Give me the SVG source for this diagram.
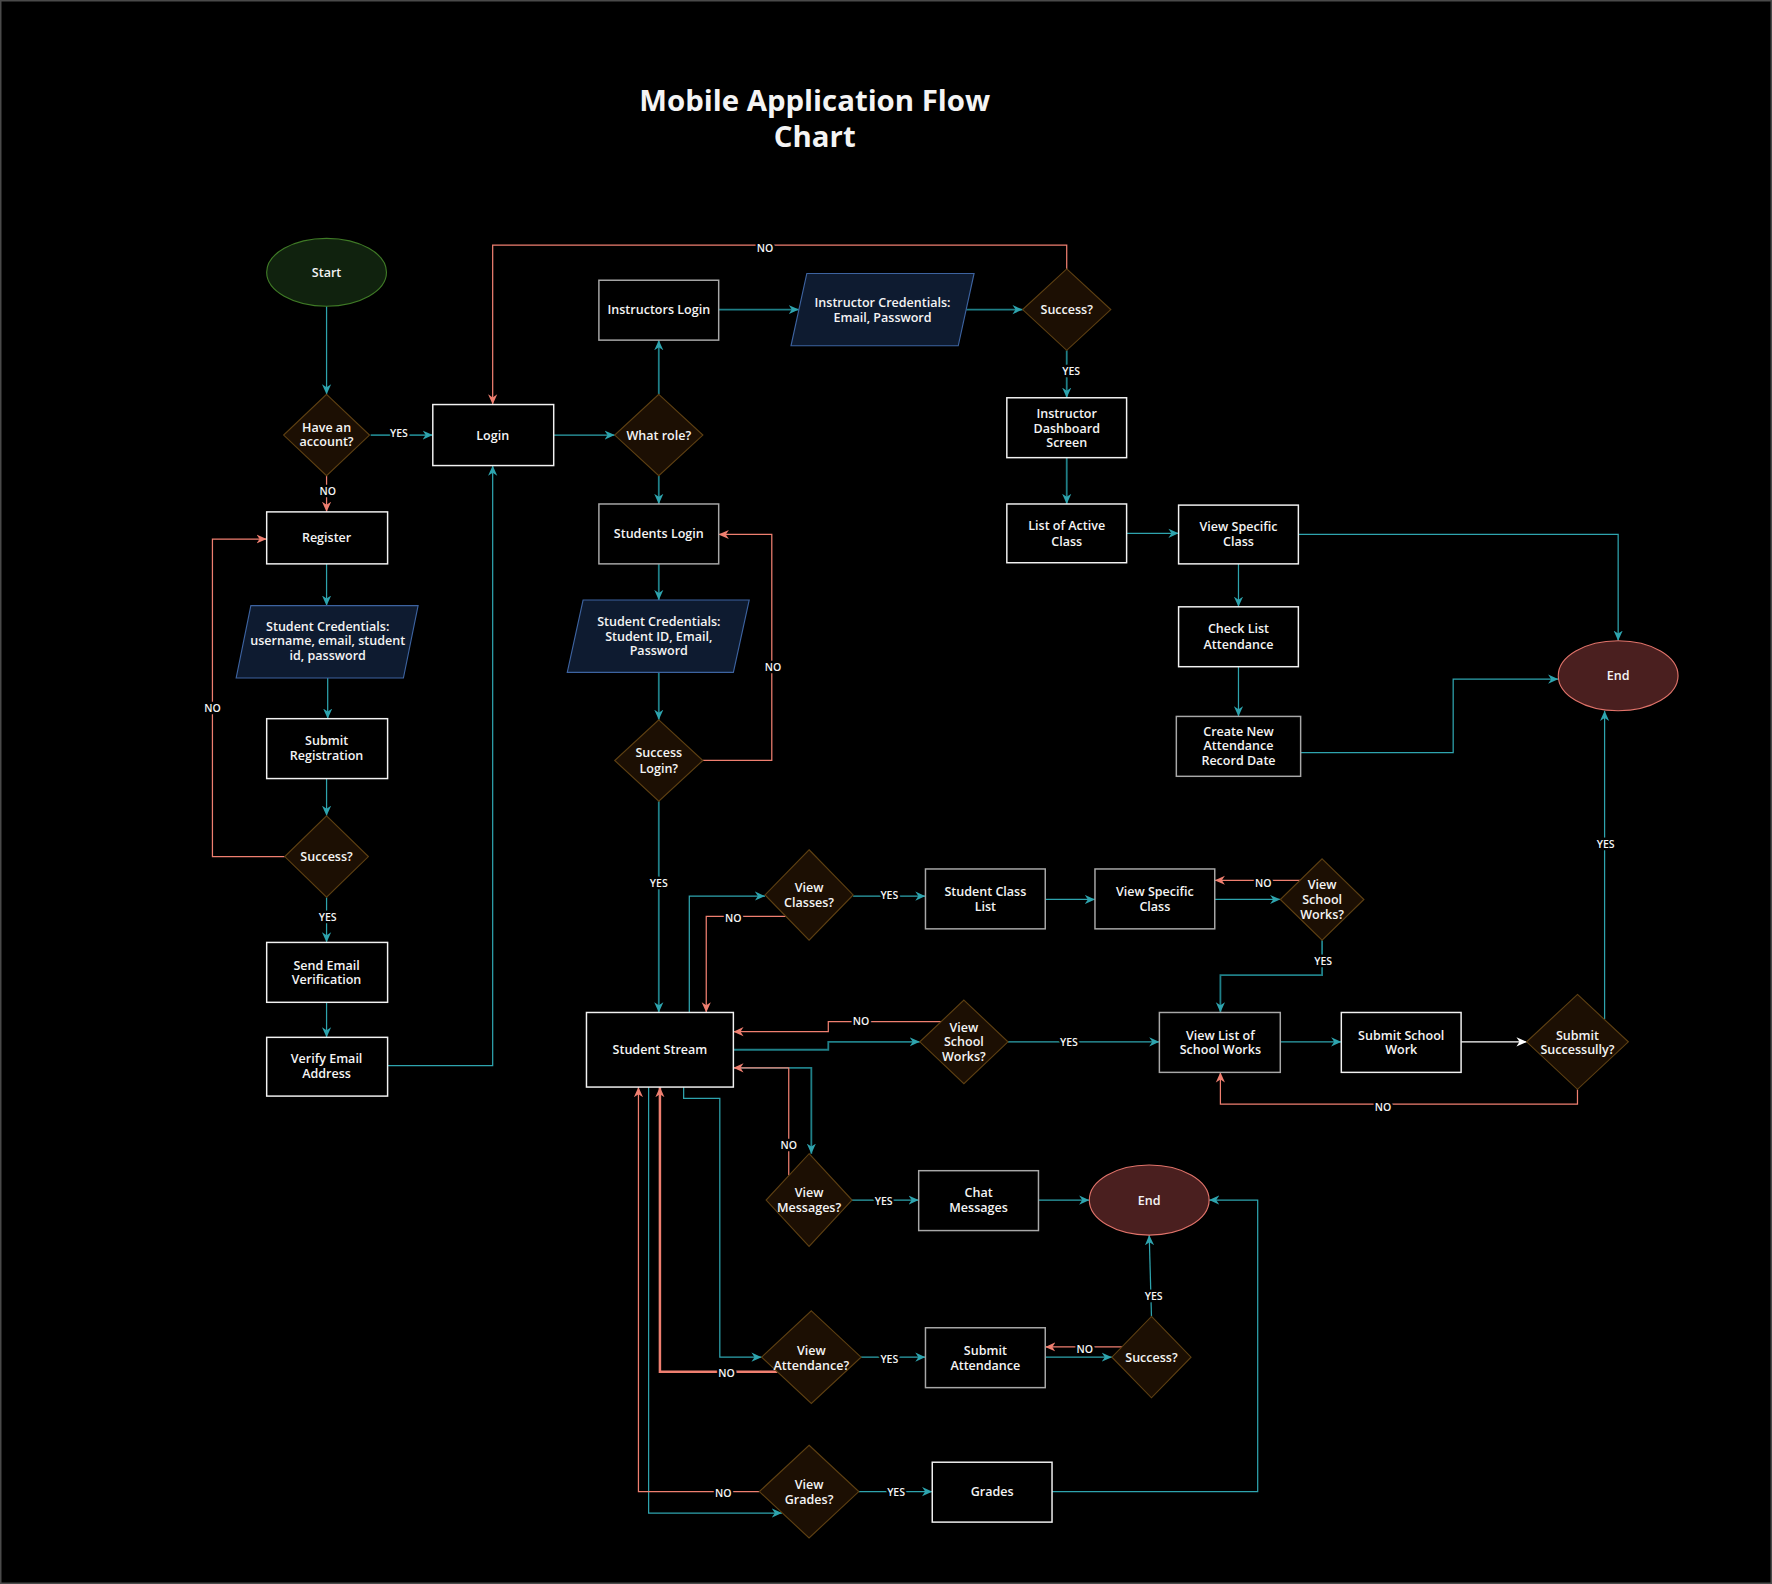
<svg xmlns="http://www.w3.org/2000/svg" width="1772" height="1584" viewBox="0 0 1772 1584">
<defs>
<style>
.bg{fill:#000;stroke:#4a4a4a;stroke-width:1.5}
.box{fill:#000;stroke:#f2f2f2;stroke-width:1.3}
.boxg{fill:#000;stroke:#a8a8a8;stroke-width:1.3}
.dia{fill:#1c0f03;stroke:#5e4012;stroke-width:1}
.para{fill:#0e1b30;stroke:#3d63a0;stroke-width:1}
.start{fill:#10220e;stroke:#3f7a26;stroke-width:1}
.end{fill:#4a1f1f;stroke:#e0736a;stroke-width:1}
text{font-family:"Open Sans","Liberation Sans",sans-serif;fill:#f4f4f4;text-anchor:middle}
.t{font-size:11.1px;font-weight:600}
.title{font-size:26px;font-weight:700}
.lbl{font-size:9.3px;font-weight:600;paint-order:stroke;stroke:#000;stroke-width:4px}
.c path{fill:none;stroke-width:1.1}
.c .tl{stroke:#2ea4ae;marker-end:url(#aT)}
.c .td{stroke:#1f7f87;stroke-width:1.6;marker-end:url(#aT)}
.c .sl{stroke:#ef7f70;marker-end:url(#aS)}
.c .sk{stroke:#ef7f70;stroke-width:2.2;marker-end:url(#aS)}
.c .wl{stroke:#ffffff;marker-end:url(#aW)}
</style>
<marker id="aT" viewBox="0 0 10 10" refX="10" refY="5" markerWidth="9" markerHeight="9" markerUnits="userSpaceOnUse" orient="auto"><path d="M0,0.5 L10,5 L0,9.5 L3,5 z" fill="#2ea4ae"/></marker>
<marker id="aS" viewBox="0 0 10 10" refX="10" refY="5" markerWidth="9" markerHeight="9" markerUnits="userSpaceOnUse" orient="auto"><path d="M0,0.5 L10,5 L0,9.5 L3,5 z" fill="#ef7f70"/></marker>
<marker id="aW" viewBox="0 0 10 10" refX="10" refY="5" markerWidth="9" markerHeight="9" markerUnits="userSpaceOnUse" orient="auto"><path d="M0,0.5 L10,5 L0,9.5 L3,5 z" fill="#ffffff"/></marker>
</defs>
<rect class="bg" x="0.75" y="0.75" width="1770.5" height="1582.5"/>
<g transform="scale(1.13)">
<g id="title"><text class="title" x="721" y="98">Mobile Application Flow</text><text class="title" x="721" y="130">Chart</text></g>

<g class="c" id="connectors">
<path class="tl" d="M289,271 V349"/>
<path class="td" d="M328,385 H383"/>
<path class="tl" d="M490,385 H544"/>
<path class="td" d="M583,349 V301"/>
<path class="td" d="M583,421 V446"/>
<path class="td" d="M636,274 H707"/>
<path class="td" d="M855,274 H905"/>
<path class="td" d="M944,310 V352"/>
<path class="td" d="M944,405 V446"/>
<path class="tl" d="M997,472 H1043"/>
<path class="tl" d="M1149,473 H1432 V567"/>
<path class="tl" d="M1096,499 V537"/>
<path class="tl" d="M1096,590 V634"/>
<path class="tl" d="M1151,666 H1286 V601 H1379"/>
<path class="tl" d="M289,499 V536"/>
<path class="tl" d="M290,600 V636"/>
<path class="tl" d="M289,689 V722"/>
<path class="tl" d="M289,794 V834"/>
<path class="tl" d="M289,887 V918"/>
<path class="tl" d="M343,943 H436 V412"/>
<path class="td" d="M583,499 V531"/>
<path class="td" d="M583,595 V637"/>
<path class="td" d="M583,709 V896"/>
<path class="tl" d="M610,896 V793 H677"/>
<path class="tl" d="M755,793 H819"/>
<path class="tl" d="M925,796 H969"/>
<path class="tl" d="M1075,796 H1133"/>
<path class="td" d="M1170,832 V863 H1080 V896"/>
<path class="td" d="M649,929 H733 V922 H814"/>
<path class="tl" d="M892,922 H1026"/>
<path class="tl" d="M1133,922 H1187"/>
<path class="wl" d="M1293,922 H1351"/>
<path class="tl" d="M1420,902 V629"/>
<path class="td" d="M649,945 H718 V1021"/>
<path class="tl" d="M754,1062 H813"/>
<path class="tl" d="M919,1062 H964"/>
<path class="tl" d="M605,962 V972 H637 V1201 H674"/>
<path class="tl" d="M762,1201 H819"/>
<path class="tl" d="M925,1201 H984"/>
<path class="tl" d="M1019,1165 L1017,1093"/>
<path class="tl" d="M574,962 V1339 H692"/>
<path class="tl" d="M760,1320 H825"/>
<path class="tl" d="M931,1320 H1113 V1062 H1070"/>
<path class="sl" d="M944,238 V217 H436 V358"/>
<path class="sl" d="M289,421 V453"/>
<path class="sl" d="M252,758 H188 V477 H236"/>
<path class="sl" d="M622,673 H683 V473 H636"/>
<path class="sl" d="M696,811 H625 V896"/>
<path class="sl" d="M1151,779 H1075"/>
<path class="sl" d="M833,904 H733 V913 H649"/>
<path class="sl" d="M1396,964 V977 H1080 V949"/>
<path class="sl" d="M698,1040 V945 H649"/>
<path class="sk" d="M688,1214 H584 V962"/>
<path class="sl" d="M993,1192 H925"/>
<path class="sl" d="M672,1320 H565 V962"/>
<text class="lbl" x="677" y="223">NO</text>
<text class="lbl" x="948" y="332">YES</text>
<text class="lbl" x="353" y="387">YES</text>
<text class="lbl" x="290" y="438">NO</text>
<text class="lbl" x="188" y="630">NO</text>
<text class="lbl" x="290" y="815">YES</text>
<text class="lbl" x="684" y="594">NO</text>
<text class="lbl" x="583" y="785">YES</text>
<text class="lbl" x="787" y="796">YES</text>
<text class="lbl" x="649" y="816">NO</text>
<text class="lbl" x="1118" y="785">NO</text>
<text class="lbl" x="1171" y="854">YES</text>
<text class="lbl" x="762" y="907">NO</text>
<text class="lbl" x="946" y="926">YES</text>
<text class="lbl" x="1224" y="983">NO</text>
<text class="lbl" x="1421" y="750">YES</text>
<text class="lbl" x="698" y="1017">NO</text>
<text class="lbl" x="782" y="1066">YES</text>
<text class="lbl" x="643" y="1219">NO</text>
<text class="lbl" x="787" y="1206">YES</text>
<text class="lbl" x="960" y="1197">NO</text>
<text class="lbl" x="1021" y="1150">YES</text>
<text class="lbl" x="640" y="1325">NO</text>
<text class="lbl" x="793" y="1324">YES</text>
</g>

<g id="start"><ellipse class="start" cx="289" cy="241" rx="53" ry="30"/><text class="t" x="289" y="245">Start</text></g>
<g id="have-account"><path class="dia" d="M289,349 L327,385 L289,421 L251,385 Z"/><text class="t" x="289" y="382">Have an</text><text class="t" x="289" y="395">account?</text></g>
<g id="login"><rect class="box" x="383" y="358" width="107" height="54"/><text class="t" x="436" y="389">Login</text></g>
<g id="what-role"><path class="dia" d="M583,349 L622,385 L583,421 L544,385 Z"/><text class="t" x="583" y="389">What role?</text></g>
<g id="instructors-login"><rect class="boxg" x="530" y="248" width="106" height="53"/><text class="t" x="583" y="278">Instructors Login</text></g>
<g id="instructor-credentials"><path class="para" d="M714,242 H862 L848,306 H700 Z"/><text class="t" x="781" y="272">Instructor Credentials:</text><text class="t" x="781" y="285">Email, Password</text></g>
<g id="instructor-success"><path class="dia" d="M944,238 L983,274 L944,310 L905,274 Z"/><text class="t" x="944" y="278">Success?</text></g>
<g id="instructor-dashboard"><rect class="box" x="891" y="352" width="106" height="53"/><text class="t" x="944" y="370">Instructor</text><text class="t" x="944" y="383">Dashboard</text><text class="t" x="944" y="396">Screen</text></g>
<g id="list-active-class"><rect class="box" x="891" y="446" width="106" height="52"/><text class="t" x="944" y="469">List of Active</text><text class="t" x="944" y="483">Class</text></g>
<g id="view-specific-class-1"><rect class="box" x="1043" y="447" width="106" height="52"/><text class="t" x="1096" y="470">View Specific</text><text class="t" x="1096" y="483">Class</text></g>
<g id="check-list-attendance"><rect class="box" x="1043" y="537" width="106" height="53"/><text class="t" x="1096" y="560">Check List</text><text class="t" x="1096" y="574">Attendance</text></g>
<g id="create-attendance"><rect class="boxg" x="1041" y="634" width="110" height="53"/><text class="t" x="1096" y="651">Create New</text><text class="t" x="1096" y="664">Attendance</text><text class="t" x="1096" y="677">Record Date</text></g>
<g id="end-1"><ellipse class="end" cx="1432" cy="598" rx="53" ry="31"/><text class="t" x="1432" y="602">End</text></g>

<g id="register"><rect class="box" x="236" y="453" width="107" height="46"/><text class="t" x="289" y="480">Register</text></g>
<g id="student-credentials-1"><path class="para" d="M222,536 H370 L357,600 H209 Z"/><text class="t" x="290" y="558">Student Credentials:</text><text class="t" x="290" y="571">username, email, student</text><text class="t" x="290" y="584">id, password</text></g>
<g id="submit-registration"><rect class="box" x="236" y="636" width="107" height="53"/><text class="t" x="289" y="659">Submit</text><text class="t" x="289" y="673">Registration</text></g>
<g id="register-success"><path class="dia" d="M289,722 L326,758 L289,794 L252,758 Z"/><text class="t" x="289" y="762">Success?</text></g>
<g id="send-email"><rect class="box" x="236" y="834" width="107" height="53"/><text class="t" x="289" y="858">Send Email</text><text class="t" x="289" y="871">Verification</text></g>
<g id="verify-email"><rect class="box" x="236" y="918" width="107" height="52"/><text class="t" x="289" y="941">Verify Email</text><text class="t" x="289" y="954">Address</text></g>

<g id="students-login"><rect class="boxg" x="530" y="446" width="106" height="53"/><text class="t" x="583" y="476">Students Login</text></g>
<g id="student-credentials-2"><path class="para" d="M516,531 H663 L649,595 H502 Z"/><text class="t" x="583" y="554">Student Credentials:</text><text class="t" x="583" y="567">Student ID, Email,</text><text class="t" x="583" y="580">Password</text></g>
<g id="success-login"><path class="dia" d="M583,637 L622,673 L583,709 L544,673 Z"/><text class="t" x="583" y="670">Success</text><text class="t" x="583" y="684">Login?</text></g>
<g id="student-stream"><rect class="box" x="519" y="896" width="130" height="66"/><text class="t" x="584" y="933">Student Stream</text></g>

<g id="view-classes"><path class="dia" d="M716,752 L755,792 L716,832 L677,792 Z"/><text class="t" x="716" y="789">View</text><text class="t" x="716" y="803">Classes?</text></g>
<g id="student-class-list"><rect class="boxg" x="819" y="769" width="106" height="53"/><text class="t" x="872" y="793">Student Class</text><text class="t" x="872" y="806">List</text></g>
<g id="view-specific-class-2"><rect class="boxg" x="969" y="769" width="106" height="53"/><text class="t" x="1022" y="793">View Specific</text><text class="t" x="1022" y="806">Class</text></g>
<g id="view-school-works-1"><path class="dia" d="M1170,760 L1207,796 L1170,832 L1133,796 Z"/><text class="t" x="1170" y="787">View</text><text class="t" x="1170" y="800">School</text><text class="t" x="1170" y="813">Works?</text></g>
<g id="view-school-works-2"><path class="dia" d="M853,885 L892,922 L853,959 L814,922 Z"/><text class="t" x="853" y="913">View</text><text class="t" x="853" y="926">School</text><text class="t" x="853" y="939">Works?</text></g>
<g id="view-list-school-works"><rect class="boxg" x="1026" y="896" width="107" height="53"/><text class="t" x="1080" y="920">View List of</text><text class="t" x="1080" y="933">School Works</text></g>
<g id="submit-school-work"><rect class="box" x="1187" y="896" width="106" height="53"/><text class="t" x="1240" y="920">Submit School</text><text class="t" x="1240" y="933">Work</text></g>
<g id="submit-successfully"><path class="dia" d="M1396,880 L1441,922 L1396,964 L1351,922 Z"/><text class="t" x="1396" y="920">Submit</text><text class="t" x="1396" y="933">Successully?</text></g>

<g id="view-messages"><path class="dia" d="M716,1021 L754,1062 L716,1103 L678,1062 Z"/><text class="t" x="716" y="1059">View</text><text class="t" x="716" y="1073">Messages?</text></g>
<g id="chat-messages"><rect class="boxg" x="813" y="1036" width="106" height="53"/><text class="t" x="866" y="1059">Chat</text><text class="t" x="866" y="1073">Messages</text></g>
<g id="end-2"><ellipse class="end" cx="1017" cy="1062" rx="53" ry="31"/><text class="t" x="1017" y="1066">End</text></g>

<g id="view-attendance"><path class="dia" d="M718,1160 L762,1201 L718,1242 L674,1201 Z"/><text class="t" x="718" y="1199">View</text><text class="t" x="718" y="1212">Attendance?</text></g>
<g id="submit-attendance"><rect class="boxg" x="819" y="1175" width="106" height="53"/><text class="t" x="872" y="1199">Submit</text><text class="t" x="872" y="1212">Attendance</text></g>
<g id="attendance-success"><path class="dia" d="M1019,1165 L1054,1201 L1019,1237 L984,1201 Z"/><text class="t" x="1019" y="1205">Success?</text></g>

<g id="view-grades"><path class="dia" d="M716,1279 L760,1320 L716,1361 L672,1320 Z"/><text class="t" x="716" y="1318">View</text><text class="t" x="716" y="1331">Grades?</text></g>
<g id="grades"><rect class="box" x="825" y="1294" width="106" height="53"/><text class="t" x="878" y="1324">Grades</text></g>
</g>
</svg>
